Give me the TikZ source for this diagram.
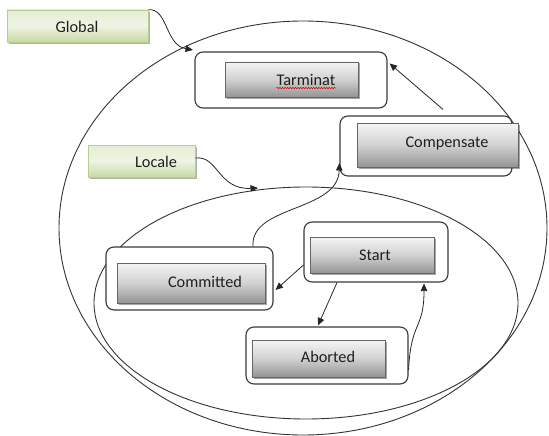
\documentclass[tikz,border=0pt]{standalone}
\usepackage{fontspec}
\setmainfont{Carlito}
\usetikzlibrary{arrows.meta,shadows,decorations.pathmorphing}
\definecolor{edgecol}{HTML}{3A3A3A}
\definecolor{gtop}{HTML}{E4EED3}
\definecolor{gmid}{HTML}{EEF4E3}
\definecolor{gbot}{HTML}{C6DAA2}
\definecolor{gline}{HTML}{B7CE8E}
\begin{document}
\begin{tikzpicture}[x=1pt,y=-1pt,
  outerbox/.style={draw=edgecol, line width=1.1pt, rounded corners=8pt, fill=white, inner sep=0pt},
  graybox/.style={draw=black!60, line width=0.6pt, top color=black!4, bottom color=black!42, middle color=black!18, inner sep=0pt,
    drop shadow={shadow xshift=1.5pt, shadow yshift=-1.5pt, opacity=0.35, fill=black}},
  greenbox/.style={draw=gline, line width=0.6pt, top color=gtop, bottom color=gbot, middle color=gmid, inner sep=0pt,
    drop shadow={shadow xshift=1.5pt, shadow yshift=-2pt, opacity=0.3, fill=black}},
  lbl/.style={inner sep=0pt, text=black!88, font=\fontsize{16.3}{18}\selectfont},
  conn/.style={draw=black!85, line width=0.8pt, -{Triangle[length=7.5pt,width=6.5pt]}},
  ring/.style={draw=black!80, line width=0.9pt}
]
\useasboundingbox (0,0) rectangle (549,436);

% ellipses
\draw[ring] (303,228) ellipse [x radius=244pt, y radius=207pt];
\draw[ring] (306,303) ellipse [x radius=212pt, y radius=116pt];

% green labels
\node[greenbox, minimum width=141pt, minimum height=32pt] (glob) at (77.5,26) {};
\node[lbl] (globT) at (77,27) {Global};
\node[greenbox, minimum width=107pt, minimum height=32pt] (loc) at (141.5,161) {};
\node[lbl] (locT) at (156,162) {Locale};

% Tarminat
\node[outerbox, minimum width=192pt, minimum height=56pt] (tarO) at (291,80) {};
\node[graybox, minimum width=133pt, minimum height=35pt] (tarI) at (291.5,79.5) {};
\node[lbl] (tarT) at (306,80) {Tarminat};
\draw[red!85!black, line width=0.5pt, decorate, decoration={snake, amplitude=0.8pt, segment length=2.6pt}]
  ([yshift=-2.5pt]tarT.base west) -- ([yshift=-2.5pt]tarT.base east);

% Compensate
\node[outerbox, minimum width=172pt, minimum height=60pt] (compO) at (426,146) {};
\node[graybox, minimum width=161pt, minimum height=44pt] (compI) at (437.5,145) {};
\node[lbl] (compT) at (447,144) {Compensate};

% Committed
\node[outerbox, minimum width=167pt, minimum height=63pt] (comO) at (189.5,278.5) {};
\node[graybox, minimum width=148pt, minimum height=40pt] (comI) at (191,283) {};
\node[lbl] (comT) at (205,282) {Committed};

% Start
\node[outerbox, minimum width=144pt, minimum height=60pt] (startO) at (376,252) {};
\node[graybox, minimum width=124pt, minimum height=36pt] (startI) at (372,255) {};
\node[lbl] (startT) at (375,255) {Start};

% Aborted
\node[outerbox, minimum width=162pt, minimum height=57pt] (abO) at (327,355.5) {};
\node[graybox, minimum width=133pt, minimum height=37pt] (abI) at (318.5,358.5) {};
\node[lbl] (abT) at (328,357) {Aborted};

% free ends on the ellipses
\coordinate (gtip) at (193,50);
\coordinate (ltip) at (258,188);

% connectors
\draw[conn] (glob.north east) .. controls (168,8) and (165,45) .. (gtip);
\draw[conn] ([yshift=3pt]loc.east) .. controls (218,155) and (218,190) .. (ltip);
\draw[conn] ([xshift=17pt,yshift=6pt]compO.north) -- ([xshift=2pt,yshift=-12pt]tarO.north east);
\draw[conn] ([xshift=63.5pt]comO.north) .. controls (250,205) and (338,212) .. ([yshift=-17pt]compO.west);
\draw[conn] ([yshift=-13pt]startO.west) -- ([xshift=2pt,yshift=-11.5pt]comO.east);
\draw[conn] ([xshift=-39pt]startO.south) -- ([xshift=-9pt,yshift=1pt]abO.north);
\draw[conn] ([yshift=-14.5pt]abO.east) .. controls (411,320) and (424,330) .. ([xshift=48pt,yshift=-1pt]startO.south);
\end{tikzpicture}
\end{document}
